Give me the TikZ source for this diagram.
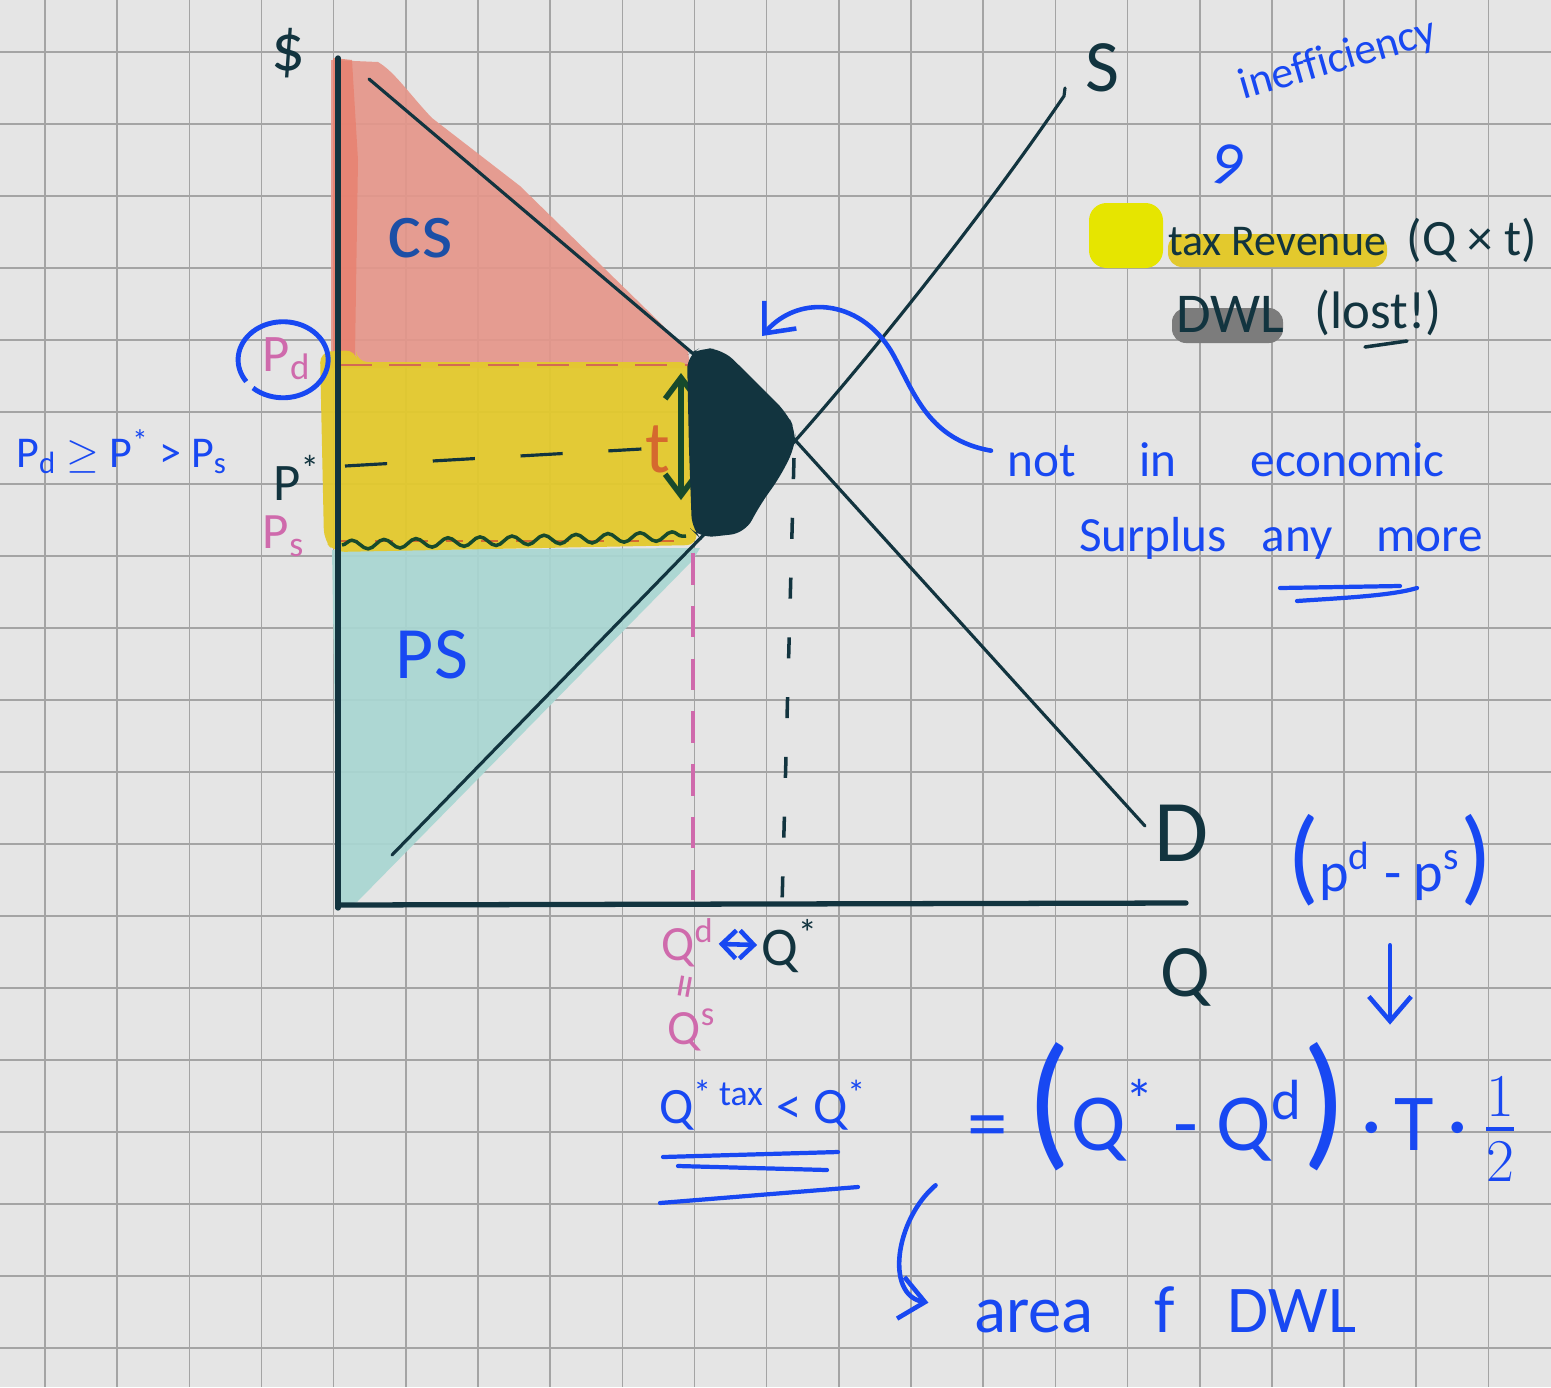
\documentclass[tikz,border=0pt]{standalone}
\usepackage{fontspec}
\setmainfont{Carlito}
\usepackage{amsmath}
\usetikzlibrary{positioning,arrows.meta,calc,decorations.pathmorphing}
\definecolor{paper}{HTML}{E5E5E5}
\definecolor{gridc}{HTML}{A4A4A4}
\definecolor{ink}{HTML}{12343F}
\definecolor{pen}{HTML}{1848F2}
\definecolor{deepblue}{HTML}{1C4FA6}
\definecolor{pinkc}{HTML}{CF6AAC}
\definecolor{orangec}{HTML}{D5692E}
\definecolor{greenc}{HTML}{174A2C}
\definecolor{csfill}{HTML}{E5968A}
\definecolor{csedge}{HTML}{E8806E}
\definecolor{taxfill}{HTML}{E3C92D}
\definecolor{psfill}{HTML}{A9D6D2}
\definecolor{swatch}{HTML}{E6E500}
\definecolor{dwlgray}{HTML}{7C7C7C}
\newcommand{\fsz}[1]{\fontsize{#1}{#1}\selectfont}

\begin{document}
\begin{tikzpicture}[x=0.01cm,y=-0.01cm,
  every node/.style={inner sep=1pt},
  gridln/.style={gridc,line width=0.45pt},
  curve/.style={ink,line width=0.9pt,line cap=round},
  axis/.style={ink,line width=1.5pt,line cap=round},
  inkl/.style={text=ink},
  penl/.style={text=pen},
  pinkl/.style={text=pinkc},
  penarr/.style={pen,line width=1.3pt,line cap=round,-{Straight Barb[length=7pt,width=12pt]}},
  ulin/.style={pen,line width=1.2pt,line cap=round}]
\fill[paper] (0,0) rectangle (1551,1387);
\useasboundingbox (0,0) rectangle (1551,1387);
% squared paper
\foreach \i in {0,...,20}
  \draw[gridln] ({45+72.17*\i},0) -- ({45+72.17*\i},1387);
\foreach \j in {0,...,18}
  \draw[gridln] (0,{52+72*\j}) -- (1551,{52+72*\j});
% surplus areas
\fill[psfill,fill opacity=0.92] (332,550) -- (700,548) -- (693,560) -- (357,902) -- (338,907) -- cycle;
\fill[csfill,fill opacity=0.92] (331,60) -- (378,62) .. controls (395,72) and (410,95) .. (432,118) -- (520,186) -- (688,350) -- (690,368) -- (331,368) -- cycle;
\fill[csedge,fill opacity=0.8] (333,58) -- (352,60) -- (358,160) -- (355,355) -- (333,355) -- cycle;
\fill[taxfill,fill opacity=0.95,rounded corners=3pt] (320,352) -- (356,350) -- (357,362) -- (690,362) -- (697,545) -- (334,552) -- (324,540) -- cycle;
% price lines
\draw[orangec!70!pinkc,line width=0.8pt,dash pattern=on 9pt off 5pt] (340,365) -- (688,365);
\draw[orangec,line width=0.8pt,dash pattern=on 5pt off 5pt] (340,541) -- (690,541);
\draw[greenc,line width=1pt,decorate,decoration={snake,segment length=0.32cm,amplitude=0.045cm}] (342,545) -- (686,536);
\node[text=orangec,font=\fsz{21}] (tlbl) at (658,449) {t};
\draw[ink,line width=0.9pt,dash pattern=on 12pt off 13pt] (345,466) -- (tlbl.west);
\draw[greenc,line width=1.6pt,{Straight Barb[length=6pt,width=9pt]}-{Straight Barb[length=6pt,width=9pt]}] (681,373) -- (681,500);
% quantity lines
\draw[pinkc,line width=1pt,dash pattern=on 9pt off 6pt] (693,553) -- (693,900);
\draw[ink,line width=1pt,dash pattern=on 6pt off 11pt] (794,458) -- (782,905);
% demand and supply
\draw[curve] (369,79) -- (795,440) -- (1145,826);
\draw[curve] (392,855) -- (795,441) .. controls (880,345) and (990,205) .. (1064,96) -- (1065,88);
% deadweight loss
\fill[ink,rounded corners=4pt] (687,355) -- (700,348) -- (722,349) -- (742,368) -- (767,393) -- (787,413) -- (796,432) -- (795,447) -- (780,477) -- (760,505) -- (745,533) -- (700,538) -- (692,530) -- (689,450) -- cycle;
\coordinate (dwltip) at (762,336);
% axes
\draw[axis] (338,58) -- (338,908);
\draw[axis] (338,905) -- (1186,903);
\node[inkl,font=\fsz{19}] (dollar) at (288,53) {\$};
\node[inkl,font=\fsz{21}] (slbl) at (1102,68) {S};
\node[inkl,font=\fsz{25}] (dlbl) at (1182,833) {D};
\node[inkl,font=\fsz{21}] (qlbl) at (1185,977) {Q};
\node[text=deepblue,font=\fsz{23}] (cs) at (420,238) {cs};
\node[penl,font=\fsz{21}] (ps) at (432,655) {PS};
% prices
\node[pinkl,font=\fsz{15}] (pd) at (287,359) {P\textsubscript{d}};
\draw[pen,line width=1.4pt] (253,388) arc[start angle=228,end angle=575,x radius=0.45cm,y radius=0.38cm];
\node[penl,font=\fsz{12.5}] (ineq) at (122,452) {P\textsubscript{d} $\geq$ P\textsuperscript{*} > P\textsubscript{s}};
\node[inkl,font=\fsz{15}] (pstar) at (297,478) {P\textsuperscript{*}};
\node[pinkl,font=\fsz{14.5}] (psl) at (284,536) {P\textsubscript{s}};
% quantities
\node[pinkl,font=\fsz{14}] (qd) at (688,943) {Q\textsuperscript{d}};
\node[inkl,font=\fsz{15.5}] (qstar) at (790,946) {Q\textsuperscript{*}};
\draw[pen,line width=1.3pt,{Straight Barb[length=4pt,width=8pt]}-{Straight Barb[length=4pt,width=8pt]}] (qd) -- (qstar);
\node[pinkl,font=\fsz{14},rotate=80] (qeq) at (690,988) {=};
\node[pinkl,font=\fsz{14}] (qs) at (692,1030) {Q\textsuperscript{s}};
\node[penl,font=\fsz{14.5}] (qtax) at (763,1105) {Q\textsuperscript{* tax} < Q\textsuperscript{*}};
\draw[ulin] (663,1157) -- (838,1152);
\draw[ulin] (678,1166) -- (827,1170);
\draw[ulin] (660,1203) -- (858,1187);
% legend
\node[penl,font=\fsz{12.5},rotate=16] (ineff) at (1338,60) {\addfontfeature{Ligatures=NoCommon}inefficiency};
\node[penl,font=\fsz{18},rotate=-15] (nine) at (1227,165) {9};
\fill[swatch,rounded corners=5pt] (1089,203) rectangle (1163,268);
\fill[taxfill,rounded corners=4pt] (1168,234) rectangle (1387,267);
\node[inkl,font=\fsz{12.5}] (taxrev) at (1277,242) {tax Revenue};
\node[inkl,font=\fsz{14.5}] (qxt) at (1472,240) {(Q × t)};
\fill[dwlgray,rounded corners=4pt] (1172,308) rectangle (1283,343);
\node[inkl,font=\fsz{16}] (dwl) at (1230,314) {DWL};
\node[inkl,font=\fsz{15}] (lost) at (1378,313) {(lost!)};
\draw[ink,line width=1pt,line cap=round] (1365,347) -- (1407,341);
% note on the lost area
\node[penl,font=\fsz{14},anchor=west] (note1) at (1003,460) {not\hspace{1.3em}in\hspace{1.5em}economic};
\node[penl,font=\fsz{14},anchor=west] (note2) at (1075,538) {Surplus\hspace{0.7em}any\hspace{0.9em}more};
\draw[ulin] (1280,588) -- (1400,586);
\draw[ulin] (1297,601) .. controls (1340,598) and (1390,596) .. (1417,588);
\draw[penarr] ([shift={(-12,12)}]note1.north west) .. controls (930,440) and (915,395) .. (895,358) .. controls (865,300) and (800,292) .. (dwltip);
% area of the loss
\node[penl,font=\fsz{16}] (pdiff) at (1390,860) {{\fsz{30}(}p\textsuperscript{d} - p\textsuperscript{s}{\fsz{30})}};
\node[penl,font=\fsz{23}] (dwleq) at (1243,1112) {= {\fsz{42}(}Q\textsuperscript{*} - Q\textsuperscript{d}{\fsz{42})}\,·\,T\,·\,$\frac{1}{2}$};
\node[penl,font=\fsz{19},anchor=west] (area) at (970,1310) {area\hspace{0.9em}f\hspace{0.8em}DWL};
\draw[penarr,shorten <=10pt,shorten >=4pt] (pdiff.south) -- (pdiff.south |- dwleq.north);
\draw[penarr,shorten >=12pt] ([xshift=-8pt]dwleq.south west) .. controls (895,1220) and (885,1295) .. (area.west);
\end{tikzpicture}
\end{document}
